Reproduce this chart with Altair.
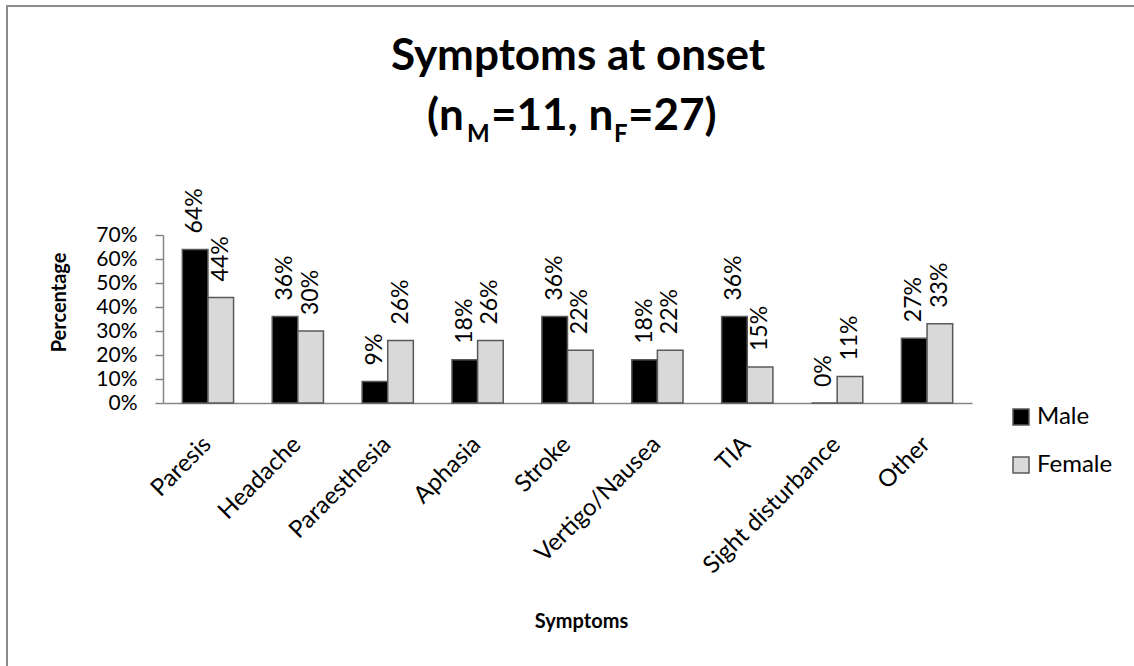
import altair as alt
import pandas as pd

# Share of patients with each symptom at onset, by sex (percent)
symptoms = ["Paresis", "Headache", "Paraesthesia", "Aphasia", "Stroke",
            "Vertigo/Nausea", "TIA", "Sight disturbance", "Other"]
male_pct = [64, 36, 9, 18, 36, 18, 36, 0, 27]
female_pct = [44, 30, 26, 26, 22, 22, 15, 11, 33]
sexes = ["Male", "Female"]
sex_colors = ["#000000", "#d9d9d9"]
y_ticks = [0, 10, 20, 30, 40, 50, 60, 70]

rows = []
for s, m, f in zip(symptoms, male_pct, female_pct):
    rows.append({"Symptom": s, "Sex": "Male", "pct": m / 100})
    rows.append({"Symptom": s, "Sex": "Female", "pct": f / 100})
df = pd.DataFrame(rows)

FONT = "Lato"
AXIS_GREY = "#868686"
W, H = 809, 168

x_enc = alt.X(
    "Symptom:N", sort=symptoms,
    scale=alt.Scale(paddingInner=0.43, paddingOuter=0.215),
    axis=alt.Axis(
        title="Symptoms", labelAngle=-45, labelAlign="right", labelBaseline="top",
        labelPadding=29, labelOffset=-9, ticks=False, labelFontSize=24,
        labelOverlap=False, labelLimit=400,
        titleFontSize=20, titleFontWeight="bold", titleX=418, titleY=218,
        titleAlign="center", titleBaseline="middle",
        domainColor=AXIS_GREY, domainWidth=1.5,
    ),
)
y_enc = alt.Y(
    "pct:Q", scale=alt.Scale(domain=[0, 0.7]),
    axis=alt.Axis(
        values=[t / 100 for t in y_ticks], format=".0%", grid=False,
        tickSize=8, tickColor=AXIS_GREY, tickWidth=1.5,
        domainColor=AXIS_GREY, domainWidth=1.5,
        labelFontSize=21, labelPadding=18, labelOverlap=False, labelFlush=False,
        title="Percentage", titleX=-104, titleY=67, titleAngle=270,
        titleAlign="center", titleBaseline="middle",
        titleFontSize=20, titleFontWeight="bold",
    ),
)
offset_enc = alt.XOffset("Sex:N", sort=sexes)

bars = alt.Chart(df).mark_bar(stroke="#595959", strokeWidth=1.5).encode(
    x=x_enc,
    xOffset=offset_enc,
    y=y_enc,
    color=alt.Color(
        "Sex:N", sort=sexes,
        scale=alt.Scale(domain=sexes, range=sex_colors),
        legend=alt.Legend(
            title=None, orient="none", legendX=846, legendY=170,
            symbolType="square", symbolSize=256,
            symbolStrokeColor="#595959", symbolStrokeWidth=1.5,
            labelFontSize=24, labelOffset=4, rowPadding=24, padding=0,
        ),
    ),
)

# Percentage written vertically above each bar
values = alt.Chart(df).mark_text(
    angle=270, align="left", baseline="middle", dx=16,
    fontSize=23, font=FONT, color="black",
).encode(
    x=x_enc,
    xOffset=offset_enc,
    y=y_enc,
    text=alt.Text("pct:Q", format=".0%"),
)


def caption(txt, x, y, size, align="left"):
    return alt.Chart(alt.Data(values=[{"t": txt}])).mark_text(
        align=align, baseline="alphabetic", fontSize=size,
        fontWeight="bold", font=FONT, color="black",
    ).encode(x=alt.value(x), y=alt.value(y), text="t:N")


# Two-line heading; the second line carries subscripts M and F
heading = [
    caption("Symptoms at onset", 415, -165, 44, align="center"),
    caption("(n", 264, -105, 44),
    caption("M", 304, -93, 24),
    caption("=11, n", 328, -105, 44),
    caption("F", 451, -93, 24),
    caption("=27)", 465, -105, 44),
]

frame = alt.Chart(alt.Data(values=[{}])).mark_rect(
    fillOpacity=0, stroke="#8c8c8c", strokeWidth=2,
).encode(
    x=alt.value(-156), x2=alt.value(1000),
    y=alt.value(-229), y2=alt.value(460),
)

chart = alt.layer(frame, bars, values, *heading).properties(
    width=W, height=H,
    autosize=alt.AutoSizeParams(type="none"),
    padding={"left": 163, "top": 235, "right": 162, "bottom": 263},
    background="white",
).configure_view(strokeWidth=0).configure_axis(
    labelFont=FONT, titleFont=FONT, labelColor="black", titleColor="black",
).configure_legend(labelFont=FONT, labelColor="black")

chart.save("out.html", embed_options={"renderer": "svg", "actions": False})
